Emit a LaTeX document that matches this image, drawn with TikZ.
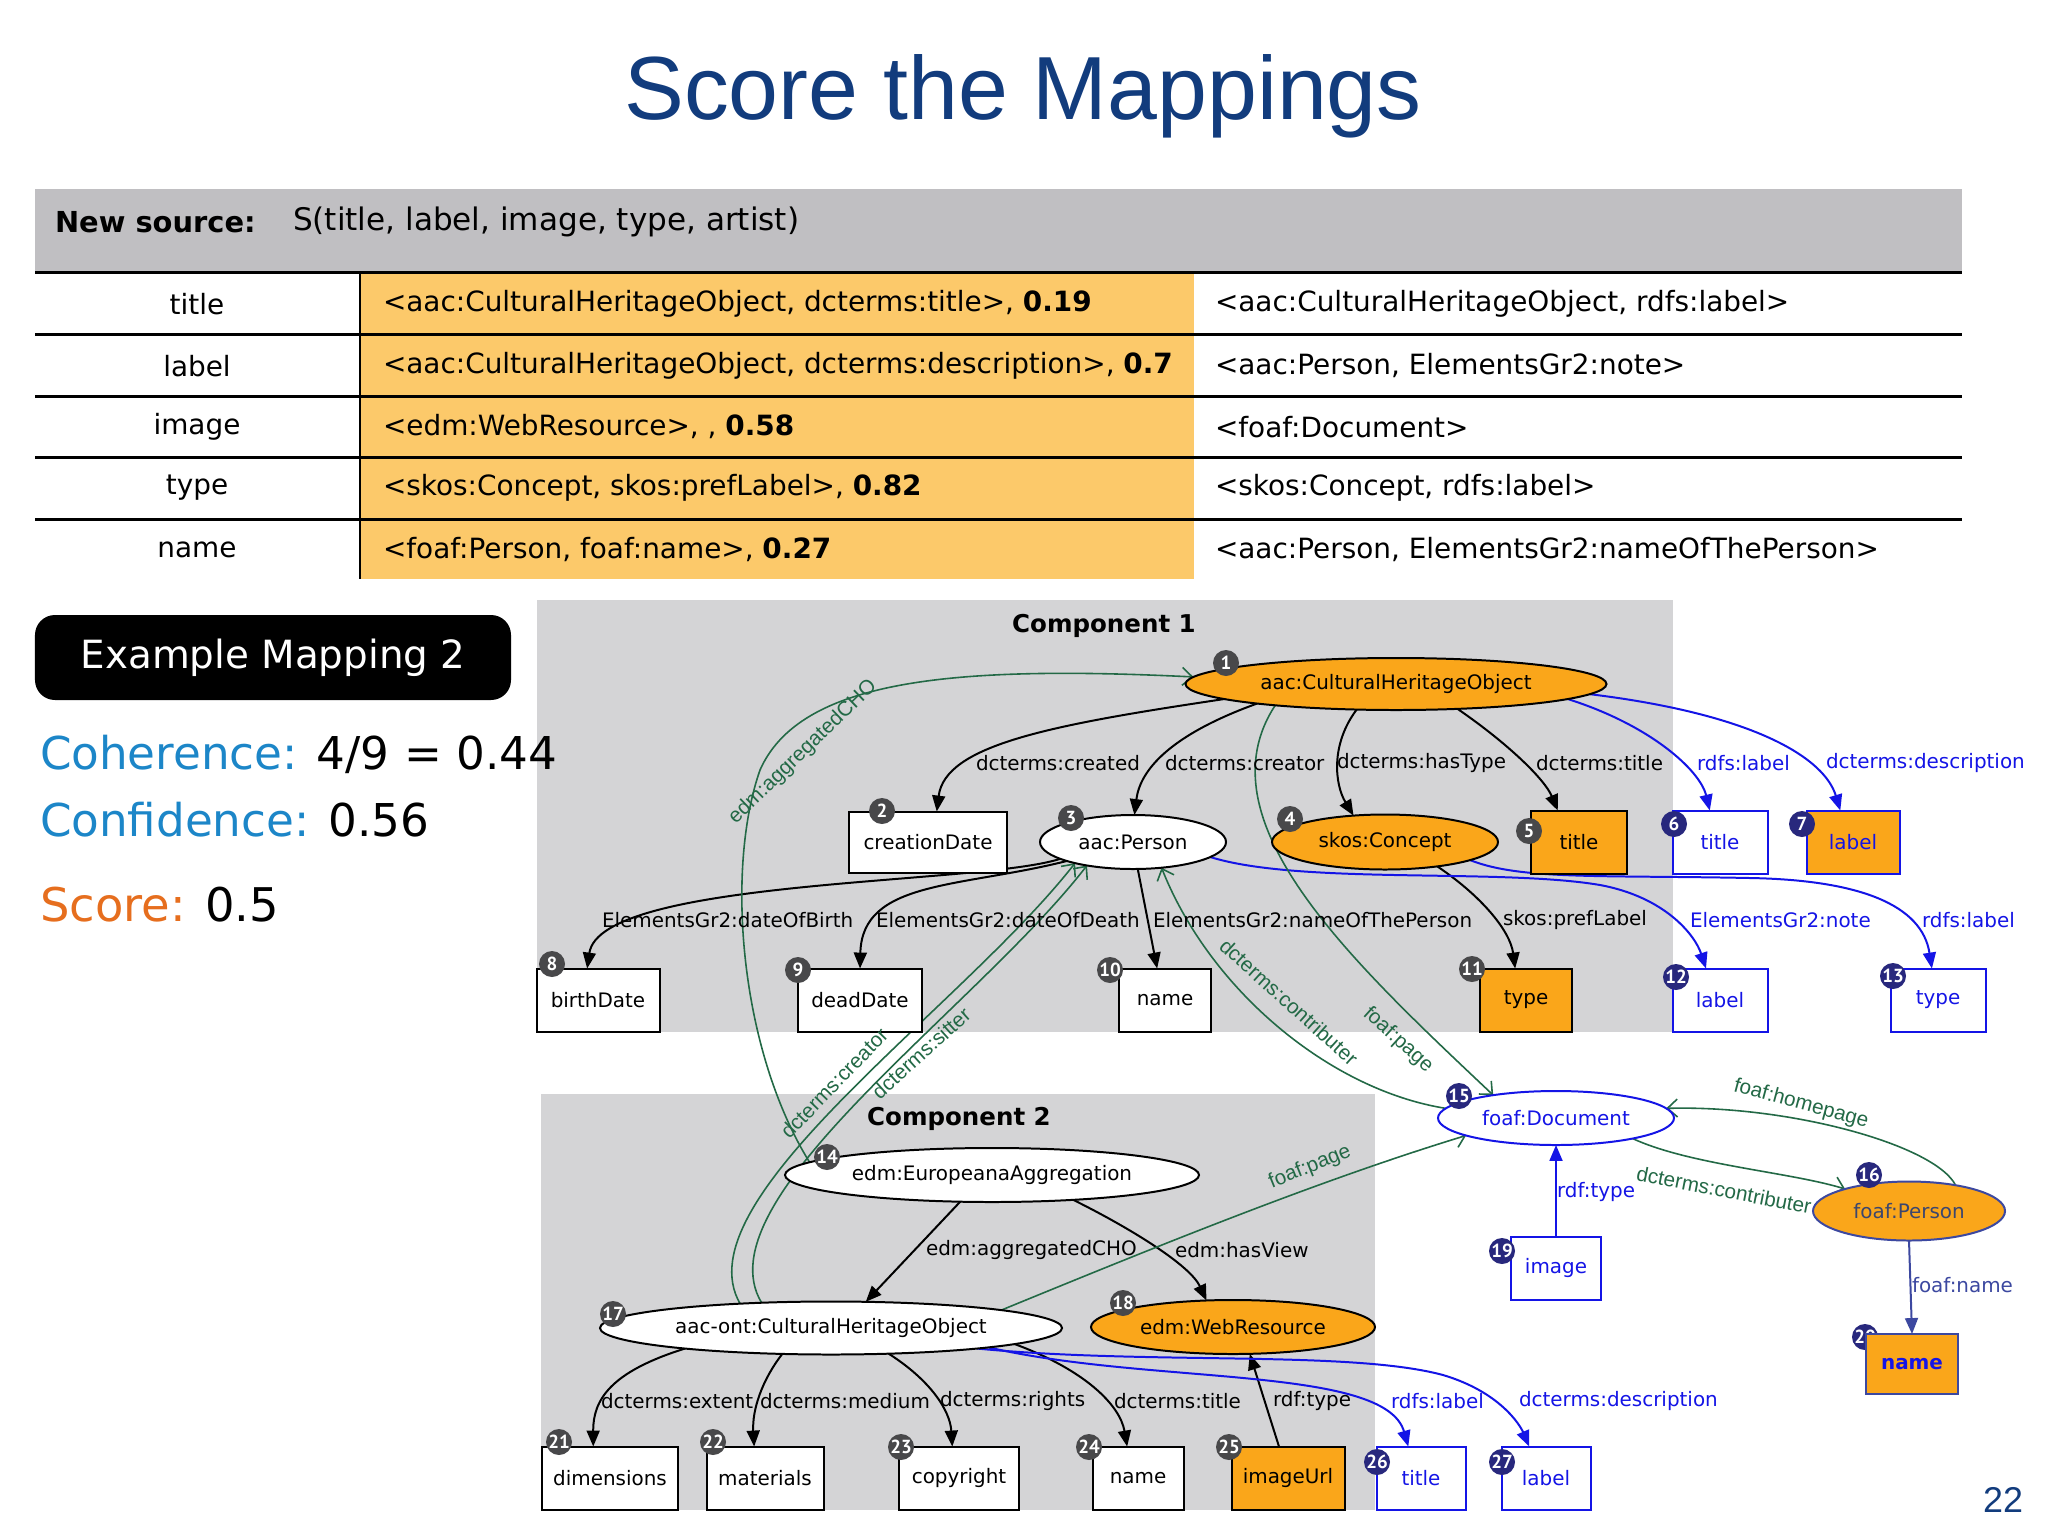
\documentclass[tikz,border=0pt]{standalone}
\usepackage{fontspec}
\setmainfont{DejaVu Sans}
\newfontfamily\titlefont{Liberation Sans}
\newfontfamily\badgefont{PT Sans}
\usetikzlibrary{shapes.geometric,arrows.meta}
\pgfdeclarelayer{back}
\pgfdeclarelayer{mid}
\pgfsetlayers{back,mid,main}
\definecolor{titleblue}{RGB}{18,60,125}
\definecolor{hdrgray}{RGB}{192,191,194}
\definecolor{tblorange}{RGB}{252,201,106}
\definecolor{compgray}{RGB}{212,212,214}
\definecolor{nodeorange}{RGB}{250,166,26}
\definecolor{badgegray}{RGB}{72,72,74}
\definecolor{badgenavy}{RGB}{40,40,125}
\definecolor{eblue}{RGB}{20,20,230}
\definecolor{egreen}{RGB}{35,105,70}
\definecolor{slateblue}{RGB}{60,72,160}
\definecolor{cohblue}{RGB}{28,134,200}
\definecolor{scoreorange}{RGB}{230,110,30}
\definecolor{persontext}{RGB}{60,70,110}
\tikzset{
  every node/.style={inner sep=0pt, outer sep=0pt},
  nodefont/.style={font=\fontsize{10}{12}\selectfont},
  wbox/.style={rectangle, draw=black, line width=1pt, fill=white, nodefont},
  obox/.style={wbox, fill=nodeorange},
  bbox/.style={rectangle, draw=eblue, line width=1pt, fill=white, text=eblue, nodefont},
  bobox/.style={bbox, fill=nodeorange},
  well/.style={ellipse, draw=black, line width=1pt, fill=white, nodefont},
  oell/.style={well, fill=nodeorange},
  gbadge/.style={circle, fill=badgegray, text=white, minimum size=13bp, font=\badgefont\bfseries\fontsize{9.5}{9.5}\selectfont},
  nbadge/.style={gbadge, fill=badgenavy},
  bedge/.style={draw=black, line width=1pt, -{Triangle[length=8pt,width=6.5pt]}},
  bluedge/.style={draw=eblue, line width=1pt, -{Triangle[length=8pt,width=6.5pt]}},
  slateedge/.style={draw=slateblue, line width=1pt, -{Triangle[length=8pt,width=6.5pt]}},
  gedge/.style={draw=egreen, line width=0.8pt, -{Straight Barb[length=5pt,width=9pt]}},
  elabel/.style={anchor=west, nodefont},
  blabel/.style={elabel, text=eblue},
  glabel/.style={text=egreen, font=\titlefont\fontsize{10.4}{12}\selectfont},
  tbl/.style={font=\fontsize{14}{16}\selectfont},
}
\begin{document}
\begin{tikzpicture}[x=0.5bp,y=-0.5bp]
\useasboundingbox (0,0) rectangle (2048,1536);

% backgrounds
\begin{pgfonlayer}{back}
\fill[white] (0,0) rectangle (2048,1536);
\fill[hdrgray] (35,189) rectangle (1962,272);
\fill[tblorange] (361,272) rectangle (1194,579);
\fill[compgray] (537,600) rectangle (1673,1032);
\fill[compgray] (541,1094) rectangle (1375,1510);
\end{pgfonlayer}

% title
\node[font=\titlefont\fontsize{45}{50}\selectfont, text=titleblue] (title) at (1023,96) {Score the Mappings};

% table
\foreach \yy in {272,334,396,457,519} {\draw[line width=1.5pt] (35,\yy) -- (1962,\yy);}
\draw[line width=1pt] (360,272) -- (360,579);
\node[anchor=west, font=\bfseries\fontsize{14.5}{16}\selectfont] (hdr) at (55,222) {New source:};
\node[anchor=west, font=\fontsize{15.6}{16}\selectfont] (hdrs) at (293,222) {S(title, label, image, type, artist)};

\node[tbl] (r1a) at (197,304) {title};
\node[tbl] (r2a) at (197,366) {label};
\node[tbl] (r3a) at (197,427) {image};
\node[tbl] (r4a) at (197,488) {type};
\node[tbl] (r5a) at (197,550) {name};
\node[tbl, anchor=west] (r1b) at (383,304) {<aac:CulturalHeritageObject, dcterms:title>, \textbf{0.19}};
\node[tbl, anchor=west] (r2b) at (383,366) {<aac:CulturalHeritageObject, dcterms:description>, \textbf{0.7}};
\node[tbl, anchor=west] (r3b) at (383,427) {<edm:WebResource>, , \textbf{0.58}};
\node[tbl, anchor=west] (r4b) at (383,488) {<skos:Concept, skos:prefLabel>, \textbf{0.82}};
\node[tbl, anchor=west] (r5b) at (383,550) {<foaf:Person, foaf:name>, \textbf{0.27}};
\node[tbl, anchor=west] (r1c) at (1215,304) {<aac:CulturalHeritageObject, rdfs:label>};
\node[tbl, anchor=west] (r2c) at (1215,366) {<aac:Person, ElementsGr2:note>};
\node[tbl, anchor=west] (r3c) at (1215,427) {<foaf:Document>};
\node[tbl, anchor=west] (r4c) at (1215,488) {<skos:Concept, rdfs:label>};
\node[tbl, anchor=west] (r5c) at (1215,550) {<aac:Person, ElementsGr2:nameOfThePerson>};

% left panel
\node[fill=black, rounded corners=10pt, minimum width=238bp, minimum height=42.5bp, text=white, font=\fontsize{19.5}{22}\selectfont] (ex) at (273,657.5) {Example Mapping 2};
\node[anchor=west, font=\fontsize{22.7}{26}\selectfont] (coh) at (40,754) {\textcolor{cohblue}{Coherence:} 4/9 = 0.44};
\node[anchor=west, font=\fontsize{22.7}{26}\selectfont] (conf) at (40,820) {\textcolor{cohblue}{Confidence:} 0.56};
\node[anchor=west, font=\fontsize{23.3}{26}\selectfont] (score) at (40,905) {\textcolor{scoreorange}{Score:} 0.5};

% component titles
\node[font=\bfseries\fontsize{12.3}{14}\selectfont] (c1) at (1104,626) {Component 1};
\node[font=\bfseries\fontsize{12.3}{14}\selectfont] (c2) at (959,1119) {Component 2};

% nodes component 1
\node[oell, minimum width=210.5bp, minimum height=26bp] (n1) at (1396,684) {aac:CulturalHeritageObject};
\node[wbox, minimum width=79bp, minimum height=30.5bp] (n2) at (928,842) {creationDate};
\node[well, minimum width=93bp, minimum height=27bp] (n3) at (1133,842) {aac:Person};
\node[oell, minimum width=113bp, minimum height=27.5bp] (n4) at (1385,842) {skos:Concept};
\node[obox, minimum width=48bp, minimum height=31.5bp] (n5) at (1579,842) {title};
\node[bbox, minimum width=47.5bp, minimum height=31.5bp] (n6) at (1720,842) {title};
\node[bobox, minimum width=46.5bp, minimum height=31.5bp] (n7) at (1853,842) {label};
\node[wbox, minimum width=61.5bp, minimum height=31.5bp] (n8) at (598,1000) {birthDate};
\node[wbox, minimum width=62bp, minimum height=31.5bp] (n9) at (860,1000) {deadDate};
\node[wbox, minimum width=46bp, minimum height=31.5bp] (n10) at (1165,1000) {name};
\node[obox, minimum width=46bp, minimum height=31.5bp] (n11) at (1526,1000) {type};
\node[bbox, minimum width=47.5bp, minimum height=31.5bp] (n12) at (1720,1000) {label};
\node[bbox, minimum width=47.5bp, minimum height=31.5bp] (n13) at (1938,1000) {type};

% nodes component 2 and right
\node[well, minimum width=207bp, minimum height=27bp] (n14) at (992,1175) {edm:EuropeanaAggregation};
\node[well, draw=eblue, text=eblue, minimum width=118bp, minimum height=27bp] (n15) at (1556,1118) {foaf:Document};
\node[well, draw=slateblue, fill=nodeorange, text=persontext, minimum width=96bp, minimum height=29.5bp] (n16) at (1909,1211) {foaf:Person};
\node[well, minimum width=231bp, minimum height=26.5bp] (n17) at (831,1328) {aac-ont:CulturalHeritageObject};
\node[oell, minimum width=142bp, minimum height=27bp] (n18) at (1233,1327) {edm:WebResource};
\node[bbox, minimum width=45bp, minimum height=31.5bp] (n19) at (1556,1268) {image};
\node[nbadge] (b20) at (1865,1337) {20};
\node[bobox, draw=slateblue, minimum width=46bp, minimum height=30bp, font=\bfseries\fontsize{10}{12}\selectfont] (n20) at (1912,1364) {name};
\node[wbox, minimum width=68bp, minimum height=31.5bp] (n21) at (610,1478) {dimensions};
\node[wbox, minimum width=58.5bp, minimum height=31.5bp] (n22) at (765,1478) {materials};
\node[wbox, minimum width=60bp, minimum height=31.5bp] (n23) at (959,1478) {copyright};
\node[wbox, minimum width=45.5bp, minimum height=31.5bp] (n24) at (1138,1478) {name};
\node[obox, minimum width=56.5bp, minimum height=31.5bp] (n25) at (1288,1478) {imageUrl};
\node[bbox, minimum width=44.5bp, minimum height=31.5bp] (n26) at (1421,1478) {title};
\node[bbox, minimum width=44.5bp, minimum height=31.5bp] (n27) at (1546,1478) {label};

% badges
\node[gbadge] (b1) at (1226,663) {1};
\node[gbadge] (b2) at (882,811) {2};
\node[gbadge] (b3) at (1071,818) {3};
\node[gbadge] (b4) at (1290,819) {4};
\node[gbadge] (b5) at (1529,831) {5};
\node[nbadge] (b6) at (1674,824) {6};
\node[nbadge] (b7) at (1802,824) {7};
\node[gbadge] (b8) at (552,964) {8};
\node[gbadge] (b9) at (798,970) {9};
\node[gbadge] (b10) at (1110,970) {10};
\node[gbadge] (b11) at (1472,969) {11};
\node[nbadge] (b12) at (1676,977) {12};
\node[nbadge] (b13) at (1893,976) {13};
\node[gbadge] (b14) at (827,1157) {14};
\node[nbadge] (b15) at (1459,1096) {15};
\node[nbadge] (b16) at (1869,1175) {16};
\node[gbadge] (b17) at (613,1314) {17};
\node[gbadge] (b18) at (1123,1303) {18};
\node[nbadge] (b19) at (1502,1251) {19};
\node[gbadge] (b21) at (559,1442) {21};
\node[gbadge] (b22) at (713,1442) {22};
\node[gbadge] (b23) at (901,1447) {23};
\node[gbadge] (b24) at (1089,1447) {24};
\node[gbadge] (b25) at (1229,1447) {25};
\node[nbadge] (b26) at (1377,1462) {26};
\node[nbadge] (b27) at (1502,1462) {27};

% edges
\begin{pgfonlayer}{mid}
\draw[bedge] (n1.185) .. controls (1050,725) and (945,745) .. (n2.74);
\draw[bedge] (n1.188) .. controls (1170,735) and (1140,770) .. (n3.87);
\draw[bedge] (n1.213) .. controls (1330,745) and (1335,785) .. (n4.140);
\draw[bedge] (n1.338.5) .. controls (1510,745) and (1545,780) .. (n5.124);
\draw[bluedge] (n1.355) .. controls (1650,725) and (1700,770) .. (n6.108);
\draw[bluedge] (n1.357) .. controls (1760,715) and (1825,760) .. (n7.112);
\draw[bedge] (n3.193) .. controls (980,885) and (600,878) .. (n8.109);
\draw[bedge] (n3.196) .. controls (960,888) and (862,880) .. (n9.north);
\draw[bedge] (n3.280) -- (n10.104);
\draw[bedge] (n4.335) .. controls (1480,895) and (1510,930) .. (n11.109);
\draw[bluedge] (n3.349) .. controls (1300,885) and (1500,868) .. (1600,885) .. controls (1665,897) and (1695,935) .. (n12.114);
\draw[bluedge] (n4.348) .. controls (1520,880) and (1600,875) .. (1750,878) .. controls (1860,880) and (1922,905) .. (n13.101);
\draw[bedge] (n14.220) -- (n17.37);
\draw[bedge] (n14.343) .. controls (1130,1228) and (1190,1265) .. (n18.135);
\draw[bedge] (n17.188) .. controls (610,1372) and (593,1400) .. (n21.118);
\draw[bedge] (n17.208) .. controls (762,1380) and (752,1410) .. (n22.109);
\draw[bedge] (n17.336) .. controls (930,1380) and (950,1410) .. (n23.102);
\draw[bedge] (n17.355) .. controls (1085,1370) and (1120,1405) .. (n24.109);
\draw[bedge] (n25.106) -- (n18.302);
\draw[bluedge] (n17.353) .. controls (1150,1385) and (1385,1365) .. (n26.112);
\draw[bluedge] (n17.352) .. controls (1150,1365) and (1350,1350) .. (1443,1375) .. controls (1500,1392) and (1520,1425) .. (n27.118);
\draw[bluedge] (n19.north) -- (n15.south);
\draw[slateedge] (n16.south) -- (n20.north);
\draw[gedge] (n15.345) .. controls (1690,1165) and (1790,1172) .. (n16.161);
\draw[gedge] (n16.29) .. controls (1935,1145) and (1790,1105) .. (n15.5);
\draw[gedge] (n14.176) .. controls (740,1050) and (725,870) .. (760,770) .. controls (800,680) and (950,665) .. (n1.178);
\draw[gedge] (n17.165) .. controls (680,1200) and (960,1010) .. (n3.200);
\draw[gedge] (n17.160) .. controls (700,1200) and (975,1010) .. (n3.207);
\draw[gedge] (n15.175) .. controls (1330,1090) and (1210,990) .. (n3.318);
\draw[gedge] (n1.190) .. controls (1200,820) and (1350,960) .. (n15.160);
\draw[gedge] (n17.6) .. controls (1160,1245) and (1320,1180) .. (n15.191);
\end{pgfonlayer}

% edge labels
\node[elabel] (l1) at (976,763) {dcterms:created};
\node[elabel] (l2) at (1165,763) {dcterms:creator};
\node[elabel] (l3) at (1337,763) {dcterms:hasType};
\node[elabel] (l4) at (1536,763) {dcterms:title};
\node[blabel] (l5) at (1697,763) {rdfs:label};
\node[blabel] (l6) at (1826,763) {dcterms:description};
\node[elabel] (l7) at (602,920) {ElementsGr2:dateOfBirth};
\node[elabel] (l8) at (876,920) {ElementsGr2:dateOfDeath};
\node[elabel] (l9) at (1153,920) {ElementsGr2:nameOfThePerson};
\node[elabel] (l10) at (1503,920) {skos:prefLabel};
\node[blabel] (l11) at (1690,920) {ElementsGr2:note};
\node[blabel] (l12) at (1922,920) {rdfs:label};
\node[elabel] (l13) at (926,1250) {edm:aggregatedCHO};
\node[elabel] (l14) at (1175,1250) {edm:hasView};
\node[elabel] (l15) at (601,1401) {dcterms:extent};
\node[elabel] (l16) at (760,1401) {dcterms:medium};
\node[elabel] (l17) at (940,1401) {dcterms:rights};
\node[elabel] (l18) at (1114,1401) {dcterms:title};
\node[elabel] (l19) at (1273,1401) {rdf:type};
\node[blabel] (l20) at (1391,1401) {rdfs:label};
\node[blabel] (l21) at (1519,1401) {dcterms:description};
\node[blabel] (l22) at (1557,1192) {rdf:type};
\node[elabel, text=slateblue] (l23) at (1912,1285) {foaf:name};

\node[glabel, rotate=44] (g1) at (803,752) {edm:aggregatedCHO};
\node[glabel, rotate=46] (g2) at (834,1083) {dcterms:creator};
\node[glabel, rotate=42] (g3) at (921,1053) {dcterms:sitter};
\node[glabel, rotate=-42] (g4) at (1289,1002) {dcterms:contributer};
\node[glabel, rotate=-42] (g5) at (1398,1040) {foaf:page};
\node[glabel, rotate=22] (g6) at (1310,1167) {foaf:page};
\node[glabel, rotate=-15] (g7) at (1801,1104) {foaf:homepage};
\node[glabel, rotate=-11] (g8) at (1724,1190) {dcterms:contributer};

\node[font=\titlefont\fontsize{18}{20}\selectfont, text=titleblue] (pnum) at (2003,1500) {22};
\end{tikzpicture}
\end{document}
